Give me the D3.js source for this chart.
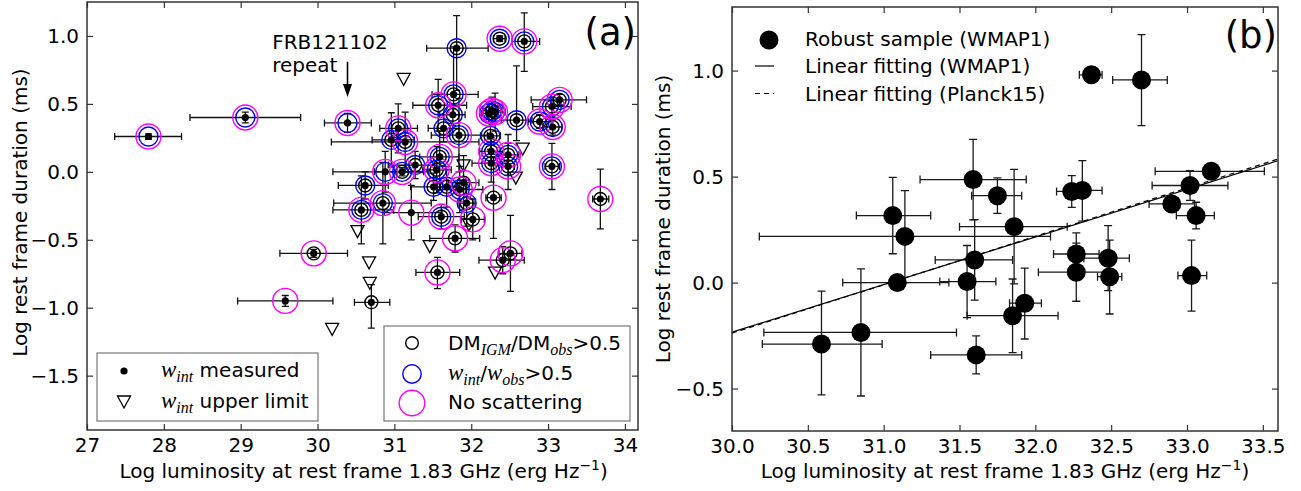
<!DOCTYPE html>
<html>
<head>
<meta charset="utf-8">
<script src="https://cdn.jsdelivr.net/npm/d3@7/dist/d3.min.js"></script>
<style>
  body { margin: 0; background: #fff; }
  svg text { font-family: "DejaVu Sans", sans-serif; fill: #000; }
</style>
</head>
<body>
<svg id="chart" width="1301" height="491"></svg>
<script>
// ---------- Panel (a): all bursts ----------
const lumTicksA = [27, 28, 29, 30, 31, 32, 33, 34];
const durTicksA = [-1.5, -1.0, -0.5, 0.0, 0.5, 1.0];

// log L, log w, L err (-,+), w err (-,+), rings:
// K = DM_IGM/DM_obs>0.5, B = w_int/w_obs>0.5, M = no scattering
const measuredA = [
  [27.80,  0.26,  0.44, 0.43, 0.02, 0.02, "BM"],
  [29.06,  0.40,  0.72, 0.72, 0.04, 0.04, "BM"],
  [30.39,  0.36,  0.30, 0.31, 0.07, 0.07, "BM"],
  [29.95, -0.60,  0.44, 0.44, 0.03, 0.03, "KM"],
  [29.58, -0.95,  0.62, 0.62, 0.04, 0.04, "M"],
  [30.70, -0.96,  0.22, 0.24, 0.19, 0.13, "K"],
  [31.81,  0.91,  0.39, 0.41, 0.31, 0.24, "KB"],
  [32.37,  0.98,  0.08, 0.07, 0.02, 0.02, "KBM"],
  [32.69,  0.96,  0.16, 0.20, 0.22, 0.21, "KBM"],
  [31.77,  0.57,  0.28, 0.32, 0.15, 0.35, "KBM"],
  [31.57,  0.49,  0.33, 0.37, 0.19, 0.19, "KBM"],
  [31.76,  0.42,  0.17, 0.16, 0.08, 0.08, "KB"],
  [31.64,  0.32,  0.20, 0.20, 0.10, 0.10, "KB"],
  [31.84,  0.27,  0.36, 0.37, 0.27, 0.27, "KBM"],
  [32.23,  0.43,  0.10, 0.10, 0.07, 0.07, "KBM"],
  [32.27,  0.45,  0.12, 0.13, 0.10, 0.10, "KBM"],
  [32.31,  0.44,  0.11, 0.13, 0.14, 0.14, "KBM"],
  [32.59,  0.38,  0.20, 0.20, 0.15, 0.40, "KB"],
  [32.89,  0.37,  0.15, 0.15, 0.05, 0.05, "KBM"],
  [33.05,  0.48,  0.25, 0.25, 0.07, 0.07, "KBM"],
  [33.15,  0.53,  0.37, 0.35, 0.04, 0.04, "KBM"],
  [33.06,  0.33,  0.13, 0.12, 0.06, 0.06, "KBM"],
  [32.25,  0.265, 0.13, 0.13, 0.10, 0.10, "KB"],
  [32.26,  0.15,  0.15, 0.16, 0.10, 0.10, "KBM"],
  [32.48,  0.125, 0.16, 0.14, 0.15, 0.15, "KBM"],
  [32.26,  0.064, 0.25, 0.21, 0.14, 0.14, "KBM"],
  [32.48,  0.04,  0.08, 0.08, 0.17, 0.17, "KBM"],
  [33.05,  0.04,  0.09, 0.10, 0.17, 0.17, "KBM"],
  [32.29, -0.19,  0.10, 0.10, 0.30, 0.30, "KM"],
  [33.68, -0.20,  0.10, 0.11, 0.22, 0.22, "KM"],
  [31.05,  0.32,  0.24, 0.25, 0.18, 0.18, "KBM"],
  [31.14,  0.22,  0.96, 0.96, 0.22, 0.22, "KBM"],
  [30.96,  0.235, 0.25, 0.30, 0.20, 0.20, "KB"],
  [30.88,  0.00,  0.68, 0.50, 0.15, 0.15, "BM"],
  [31.10,  0.00,  0.36, 0.35, 0.03, 0.03, "KBM"],
  [31.27,  0.05,  0.35, 0.25, 0.10, 0.10, "KB"],
  [30.62, -0.10,  0.35, 0.30, 0.10, 0.10, "KB"],
  [30.57, -0.28,  0.37, 0.42, 0.25, 0.25, "KBM"],
  [30.85, -0.23,  0.64, 0.63, 0.30, 0.30, "KBM"],
  [31.22, -0.30,  0.35, 0.40, 0.20, 0.20, "M"],
  [31.59,  0.11,  0.26, 0.25, 0.19, 0.19, "KBM"],
  [31.55,  0.015, 0.18, 0.19, 0.17, 0.17, "KBM"],
  [31.51, -0.11,  0.30, 0.30, 0.10, 0.10, "KB"],
  [31.68, -0.11,  0.15, 0.15, 0.15, 0.15, "KB"],
  [31.90, -0.08,  0.20, 0.20, 0.20, 0.20, "KM"],
  [31.85, -0.13,  0.30, 0.30, 0.17, 0.17, "KBM"],
  [31.94, -0.23,  0.10, 0.11, 0.17, 0.17, "KB"],
  [31.61, -0.33,  0.30, 0.30, 0.09, 0.09, "KBM"],
  [32.02, -0.35,  0.15, 0.15, 0.15, 0.15, "KM"],
  [31.79, -0.49,  0.33, 0.32, 0.10, 0.10, "KM"],
  [31.56, -0.74,  0.28, 0.29, 0.12, 0.11, "KM"],
  [32.41, -0.65,  0.31, 0.28, 0.10, 0.10, "KM"],
  [32.51, -0.60,  0.15, 0.15, 0.28, 0.28, "KM"]
];

// bursts with only an upper limit on the intrinsic width
const upperLum = [31.12, 30.52, 30.67, 30.68, 30.19, 31.46, 32.31, 31.90, 32.67, 32.58, 31.97];
const upperDur = [0.68, -0.44, -0.67, -0.82, -1.16, -0.55, -0.745, 0.044, 0.167, -0.046, -0.39];

// ---------- Panel (b): robust sample ----------
const lumTicksB = [30.0, 30.5, 31.0, 31.5, 32.0, 32.5, 33.0, 33.5];
const durTicksB = [-0.5, 0.0, 0.5, 1.0];

// log L, log w, L err (-,+), w err (-,+)
const robustB = [
  [30.59, -0.29,  0.39, 0.40, 0.24, 0.25],
  [30.85, -0.235, 0.64, 0.63, 0.30, 0.30],
  [31.09,  0.00,  0.36, 0.34, 0.02, 0.02],
  [31.14,  0.218, 0.96, 0.96, 0.218, 0.216],
  [31.06,  0.316, 0.24, 0.25, 0.18, 0.18],
  [31.55,  0.005, 0.18, 0.19, 0.17, 0.17],
  [31.60,  0.107, 0.26, 0.25, 0.19, 0.19],
  [31.59,  0.486, 0.35, 0.35, 0.19, 0.19],
  [31.75,  0.41,  0.17, 0.16, 0.083, 0.084],
  [31.86,  0.264, 0.36, 0.35, 0.27, 0.27],
  [31.61, -0.341, 0.30, 0.30, 0.09, 0.09],
  [31.85, -0.156, 0.30, 0.30, 0.174, 0.173],
  [31.93, -0.097, 0.10, 0.11, 0.169, 0.165],
  [32.24,  0.43,  0.10, 0.10, 0.075, 0.075],
  [32.31,  0.435, 0.11, 0.13, 0.145, 0.14],
  [32.27,  0.135, 0.15, 0.15, 0.10, 0.10],
  [32.27,  0.049, 0.25, 0.21, 0.137, 0.137],
  [32.48,  0.115, 0.16, 0.14, 0.153, 0.154],
  [32.49,  0.028, 0.08, 0.08, 0.176, 0.172],
  [32.37,  0.98,  0.08, 0.07, 0.02, 0.02],
  [32.70,  0.956, 0.19, 0.17, 0.216, 0.214],
  [33.16,  0.525, 0.37, 0.35, 0.03, 0.03],
  [33.02,  0.458, 0.25, 0.25, 0.07, 0.07],
  [32.90,  0.371, 0.15, 0.15, 0.03, 0.03],
  [33.06,  0.316, 0.13, 0.12, 0.063, 0.063],
  [33.03,  0.033, 0.09, 0.10, 0.168, 0.167]
];

// log w = slope * log L + intercept
const fitNames = ["Linear fitting (WMAP1)", "Linear fitting (Planck15)"];
const fitSlope = [0.2247, 0.228];
const fitIntercept = [-6.975, -7.078];
const fitDash = [null, "5,4"];

// ---------- drawing ----------
const FS = 20;
const svg = d3.select("#chart");
svg.append("rect").attr("width", 1301).attr("height", 491).attr("fill", "#fff");
const defs = svg.append("defs");

const xA = d3.scaleLinear().domain([27, 34.17]).range([87, 638]);
const yA = d3.scaleLinear().domain([-1.9, 1.25]).range([430, 2]);
const xB = d3.scaleLinear().domain([30, 33.6]).range([732, 1278]);
const yB = d3.scaleLinear().domain([-0.7, 1.3]).range([431, 7]);

function plotArea(id, x, y) {
  const [x0, x1] = x.range(), [yb, yt] = y.range();
  defs.append("clipPath").attr("id", id).append("rect")
    .attr("x", x0).attr("y", yt).attr("width", x1 - x0).attr("height", yb - yt);
  return svg.append("g").attr("clip-path", `url(#${id})`);
}

function frame(x, y, xTicks, yTicks, xFmt, yFmt) {
  const [x0, x1] = x.range(), [yb, yt] = y.range();
  const g = svg.append("g");
  const t = 6;
  g.append("g").attr("transform", `translate(0,${yb})`)
    .call(d3.axisBottom(x).tickValues(xTicks).tickFormat(xFmt).tickSizeInner(-t).tickSizeOuter(0).tickPadding(8));
  g.append("g").attr("transform", `translate(0,${yt})`)
    .call(d3.axisTop(x).tickValues(xTicks).tickFormat("").tickSizeInner(-t).tickSizeOuter(0));
  g.append("g").attr("transform", `translate(${x0},0)`)
    .call(d3.axisLeft(y).tickValues(yTicks).tickFormat(yFmt).tickSizeInner(-t).tickSizeOuter(0).tickPadding(8));
  g.append("g").attr("transform", `translate(${x1},0)`)
    .call(d3.axisRight(y).tickValues(yTicks).tickFormat("").tickSizeInner(-t).tickSizeOuter(0));
  g.selectAll(".domain").remove();
  g.selectAll(".tick line").attr("stroke", "#333").attr("stroke-width", 1.2);
  g.selectAll(".tick text").attr("font-size", FS).attr("font-family", "DejaVu Sans").attr("fill", "#000");
  g.append("rect").attr("x", x0).attr("y", yt).attr("width", x1 - x0).attr("height", yb - yt)
    .attr("fill", "none").attr("stroke", "#333").attr("stroke-width", 1.5);
}

function errorBars(g, rows, x, y, color, cap) {
  g.append("g").attr("stroke", color).attr("stroke-width", 1.3).attr("fill", "none")
    .selectAll("path").data(rows).join("path")
    .attr("d", d => {
      const cx = x(d[0]), cy = y(d[1]);
      const xa = x(d[0] - d[2]), xb = x(d[0] + d[3]);
      const ya = y(d[1] + d[5]), yb = y(d[1] - d[4]);
      return `M${xa},${cy}H${xb}M${xa},${cy - cap}V${cy + cap}M${xb},${cy - cap}V${cy + cap}` +
             `M${cx},${ya}V${yb}M${cx - cap},${ya}H${cx + cap}M${cx - cap},${yb}H${cx + cap}`;
    });
}

function tri(cx, cy, s) {
  return `M${cx - s},${cy - s * 0.92}L${cx + s},${cy - s * 0.92}L${cx},${cy + s * 0.92}Z`;
}

// ----- panel (a) -----
const gA = plotArea("clipA", xA, yA);
errorBars(gA, measuredA, xA, yA, "#111", 3.5);

gA.append("g").selectAll("path").data(d3.zip(upperLum, upperDur)).join("path")
  .attr("d", d => tri(xA(d[0]), yA(d[1]), 6.5))
  .attr("fill", "none").attr("stroke", "#000").attr("stroke-width", 1.3);

const ringStyle = [["K", 6.5, "#000"], ["B", 9.5, "#0000ff"], ["M", 12.5, "#ff00ff"]];
ringStyle.forEach(([flag, r, col]) => {
  gA.append("g").selectAll("circle").data(measuredA.filter(d => d[6].includes(flag))).join("circle")
    .attr("cx", d => xA(d[0])).attr("cy", d => yA(d[1])).attr("r", r)
    .attr("fill", "none").attr("stroke", col).attr("stroke-width", 1.4);
});
gA.append("g").selectAll("circle").data(measuredA).join("circle")
  .attr("cx", d => xA(d[0])).attr("cy", d => yA(d[1])).attr("r", 3.6).attr("fill", "#000");

frame(xA, yA, lumTicksA, durTicksA, d3.format("d"), d3.format(".1f"));

// FRB 121102 annotation
const annX = 30.39;
svg.append("text").attr("x", xA(29.41)).attr("y", yA(0.905)).attr("font-size", FS).text("FRB121102");
svg.append("text").attr("x", xA(29.41)).attr("y", yA(0.735)).attr("font-size", FS).text("repeat");
svg.append("line").attr("x1", xA(annX)).attr("x2", xA(annX)).attr("y1", yA(0.81)).attr("y2", yA(0.62))
  .attr("stroke", "#000").attr("stroke-width", 1.6);
svg.append("path").attr("d", () => {
  const tx = xA(annX), ty = yA(0.55);
  return `M${tx},${ty}L${tx - 4.5},${ty - 13}L${tx + 4.5},${ty - 13}Z`;
}).attr("fill", "#000");

svg.append("text").attr("x", 636).attr("y", 45).attr("font-size", 37).attr("text-anchor", "end").text("(a)");

// legends of panel (a)
function mathText(sel, parts) {
  // parts: [text, kind] where kind: "r" roman, "i" italic symbol, "s" italic subscript
  parts.forEach(([t, k], i) => {
    const ts = sel.append("tspan").text(t);
    if (k === "i") ts.attr("font-family", "Liberation Serif, serif").attr("font-style", "italic").attr("font-size", 23);
    if (k === "s") ts.attr("font-family", "Liberation Serif, serif").attr("font-style", "italic").attr("font-size", 16);
    const prev = i > 0 ? parts[i - 1][1] : "r";
    let dy = 0;
    if (k === "s" && prev !== "s") dy = 5;
    if (k !== "s" && prev === "s") dy = -5;
    if (dy) ts.attr("dy", dy);
  });
}

const legA1 = svg.append("g");
legA1.append("rect").attr("x", 97).attr("y", 353).attr("width", 221).attr("height", 68)
  .attr("fill", "#fff").attr("stroke", "#777").attr("stroke-width", 1.2);
legA1.append("circle").attr("cx", 124).attr("cy", 371).attr("r", 3.6).attr("fill", "#000");
legA1.append("path").attr("d", tri(124, 402, 6.5)).attr("fill", "none").attr("stroke", "#000").attr("stroke-width", 1.3);
mathText(legA1.append("text").attr("x", 161).attr("y", 377).attr("font-size", FS),
  [["w", "i"], ["int", "s"], [" measured", "r"]]);
mathText(legA1.append("text").attr("x", 161).attr("y", 408).attr("font-size", FS),
  [["w", "i"], ["int", "s"], [" upper limit", "r"]]);

const legA2 = svg.append("g");
legA2.append("rect").attr("x", 384).attr("y", 326).attr("width", 246).attr("height", 95)
  .attr("fill", "#fff").attr("stroke", "#777").attr("stroke-width", 1.2);
legA2.append("circle").attr("cx", 412).attr("cy", 343).attr("r", 6.3).attr("fill", "none").attr("stroke", "#000").attr("stroke-width", 1.4);
legA2.append("circle").attr("cx", 412).attr("cy", 374).attr("r", 9.2).attr("fill", "none").attr("stroke", "#0000ff").attr("stroke-width", 1.4);
legA2.append("circle").attr("cx", 412).attr("cy", 403).attr("r", 12.8).attr("fill", "none").attr("stroke", "#ff00ff").attr("stroke-width", 1.4);
mathText(legA2.append("text").attr("x", 448).attr("y", 350).attr("font-size", FS),
  [["DM", "r"], ["IGM", "s"], ["/DM", "r"], ["obs", "s"], [">0.5", "r"]]);
mathText(legA2.append("text").attr("x", 448).attr("y", 380).attr("font-size", FS),
  [["w", "i"], ["int", "s"], ["/", "r"], ["w", "i"], ["obs", "s"], [">0.5", "r"]]);
legA2.append("text").attr("x", 448).attr("y", 409).attr("font-size", FS).text("No scattering");

// ----- panel (b) -----
const gB = plotArea("clipB", xB, yB);
errorBars(gB, robustB, xB, yB, "#1a1a1a", 4);
gB.append("g").selectAll("circle").data(robustB).join("circle")
  .attr("cx", d => xB(d[0])).attr("cy", d => yB(d[1])).attr("r", 9.5).attr("fill", "#000");
gB.append("g").selectAll("line").data(d3.range(fitSlope.length)).join("line")
  .attr("x1", xB(30)).attr("x2", xB(33.6))
  .attr("y1", i => yB(fitSlope[i] * 30 + fitIntercept[i]))
  .attr("y2", i => yB(fitSlope[i] * 33.6 + fitIntercept[i]))
  .attr("stroke", "#000").attr("stroke-width", 1.2)
  .attr("stroke-dasharray", i => fitDash[i]);

frame(xB, yB, lumTicksB, durTicksB, d3.format(".1f"), d3.format(".1f"));

svg.append("text").attr("x", 1277).attr("y", 48).attr("font-size", 37).attr("text-anchor", "end").text("(b)");

const legB = svg.append("g");
legB.append("circle").attr("cx", 769).attr("cy", 40).attr("r", 9.5).attr("fill", "#000");
legB.append("text").attr("x", 805).attr("y", 46).attr("font-size", FS).text("Robust sample (WMAP1)");
fitNames.forEach((name, i) => {
  const yy = 66 + i * 27.5;
  legB.append("line").attr("x1", 755).attr("x2", 774).attr("y1", yy).attr("y2", yy)
    .attr("stroke", "#000").attr("stroke-width", 1.2).attr("stroke-dasharray", fitDash[i]);
  legB.append("text").attr("x", 805).attr("y", yy + 7).attr("font-size", FS).text(name);
});

// ----- axis titles -----
function xTitle(cx) {
  const t = svg.append("text").attr("x", cx).attr("y", 478).attr("font-size", FS).attr("text-anchor", "middle");
  t.append("tspan").text("Log luminosity at rest frame 1.83 GHz (erg Hz");
  t.append("tspan").text("\u22121").attr("font-size", 14).attr("dy", -8);
  t.append("tspan").text(")").attr("dy", 8);
}
function yTitle(cx, cy) {
  svg.append("text").attr("transform", `translate(${cx},${cy}) rotate(-90)`)
    .attr("font-size", FS).attr("text-anchor", "middle").text("Log rest frame duration (ms)");
}
xTitle(xA(30.6));
xTitle(xB(31.8));
yTitle(27, yA(-0.3));
yTitle(670, yB(0.3));
</script>
</body>
</html>
